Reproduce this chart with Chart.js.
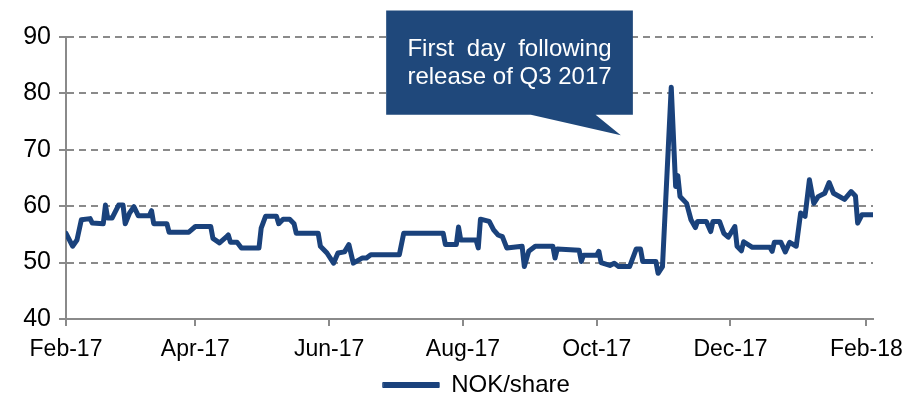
<!DOCTYPE html>
<html>
<head>
<meta charset="utf-8">
<script src="https://cdn.jsdelivr.net/npm/chart.js@4.4.0/dist/chart.umd.min.js"></script>
<style>
  html, body { margin: 0; padding: 0; background: #fff; }
  #wrap { width: 907px; height: 396px; }
</style>
</head>
<body>
<div id="wrap"><canvas id="sharePrice" width="907" height="396"></canvas></div>
<script>
// trading days, counted in days after 1 Feb 2017
const dayOffsets = [
  0, 3, 5, 7, 11, 12, 17, 18, 19, 21, 24, 26, 27, 29, 31, 33, 38, 39, 40, 46,
  47, 56, 59, 66, 67, 70, 73, 74, 75, 78, 80, 88, 89, 91, 96, 97, 99, 102, 104, 105,
  115, 116, 119, 122, 124, 127, 129, 131, 135, 137, 139, 152, 154, 172, 173, 178, 179, 180, 187, 188,
  189, 193, 195, 197, 199, 201, 208, 209, 211, 214, 222, 223, 224, 234, 235, 236, 242, 243, 244, 248,
  250, 252, 257, 260, 262, 263, 269, 270, 272, 276, 278, 279, 280, 283, 285, 287, 288, 292, 294, 295,
  298, 300, 302, 305, 306, 308, 309, 313, 321, 322, 323, 326, 328, 330, 333, 335, 337, 339, 341, 343,
  346, 348, 350, 355, 358, 360, 361, 363, 368
];

// closing price, NOK per share
const nokPerShare = [
  55.2, 52.9, 54.0, 57.6, 57.8, 57.0, 56.9, 60.2, 57.9, 57.9, 60.2, 60.2, 56.9, 58.8, 59.9, 58.3, 58.3, 59.2, 56.9, 56.9,
  55.4, 55.4, 56.4, 56.4, 54.3, 53.5, 54.5, 54.9, 53.6, 53.6, 52.6, 52.6, 56.1, 58.2, 58.2, 56.9, 57.7, 57.7, 56.9, 55.2,
  55.2, 52.9, 51.7, 49.9, 51.7, 51.9, 53.2, 49.9, 50.8, 50.8, 51.4, 51.4, 55.2, 55.2, 53.2, 53.2, 56.3, 54.0, 54.0, 52.6,
  57.7, 57.3, 55.8, 54.9, 54.6, 52.6, 52.9, 49.3, 52.0, 52.9, 52.9, 50.8, 52.4, 52.2, 50.2, 51.3, 51.3, 52.0, 50.0, 49.5,
  49.9, 49.3, 49.3, 52.4, 52.4, 50.2, 50.2, 48.1, 49.3, 81.1, 63.5, 65.4, 61.7, 60.5, 57.6, 56.2, 57.3, 57.3, 55.5, 57.3,
  57.3, 55.2, 54.5, 56.4, 52.9, 52.1, 53.7, 52.7, 52.7, 52.0, 53.6, 53.6, 51.9, 53.6, 52.9, 58.8, 58.2, 64.7, 60.5, 61.7,
  62.3, 64.2, 62.3, 61.2, 62.6, 61.8, 57.0, 58.5, 58.5
];

const monthTicks = [0, 59, 120, 181, 242, 303, 365];
const monthLabels = ['Feb-17', 'Apr-17', 'Jun-17', 'Aug-17', 'Oct-17', 'Dec-17', 'Feb-18'];

const calloutLines = [['First', 'day', 'following'], ['release of Q3 2017']];

const navy = '#1a427c';
const boxBlue = '#1f487b';
const gridGrey = '#8a8a8a';
const font = '"Liberation Sans", Arial, sans-serif';

const points = dayOffsets.map((d, i) => ({ x: d, y: nokPerShare[i] }));

// speech-bubble note, placed in data units so it follows the scales
const callout = {
  id: 'callout',
  afterDraw(chart) {
    const { ctx, scales: { x, y } } = chart;
    const left = x.getPixelForValue(146);
    const right = x.getPixelForValue(258.5);
    const top = y.getPixelForValue(94.7);
    const bottom = y.getPixelForValue(76.2);
    const tipX = x.getPixelForValue(253);
    const tipY = y.getPixelForValue(72.6);

    ctx.save();
    ctx.fillStyle = boxBlue;
    ctx.beginPath();
    ctx.moveTo(left, top);
    ctx.lineTo(right, top);
    ctx.lineTo(right, bottom);
    ctx.lineTo(x.getPixelForValue(241.5), bottom);
    ctx.lineTo(tipX, tipY);
    ctx.lineTo(x.getPixelForValue(212), bottom);
    ctx.lineTo(left, bottom);
    ctx.closePath();
    ctx.fill();

    ctx.fillStyle = '#ffffff';
    ctx.font = '24px ' + font;
    ctx.textBaseline = 'alphabetic';
    const cx = (left + right) / 2;
    const full = ctx.measureText(calloutLines[1].join(' ')).width;
    const x0 = cx - full / 2;
    // first line is justified to the width of the second
    const words = calloutLines[0];
    const wordsW = words.reduce((s, w) => s + ctx.measureText(w).width, 0);
    const gap = (full - wordsW) / (words.length - 1);
    let wx = x0;
    words.forEach(w => {
      ctx.fillText(w, wx, top + 46);
      wx += ctx.measureText(w).width + gap;
    });
    ctx.fillText(calloutLines[1].join(' '), x0, top + 74);
    ctx.restore();
  }
};

// nudge the legend a little right of the plot centre
const legendShift = {
  id: 'legendShift',
  afterLayout(chart) {
    chart.legend.left += 14;
  }
};

const ctx = document.getElementById('sharePrice').getContext('2d');

new Chart(ctx, {
  type: 'line',
  data: {
    datasets: [{
      label: 'NOK/share',
      data: points,
      borderColor: navy,
      backgroundColor: navy,
      borderWidth: 5,
      borderJoinStyle: 'round',
      borderCapStyle: 'round',
      pointRadius: 0,
      tension: 0
    }]
  },
  options: {
    responsive: false,
    devicePixelRatio: 1,
    animation: false,
    layout: { padding: { left: 0, right: 34, top: 37, bottom: 0 } },
    plugins: {
      legend: {
        position: 'bottom',
        fullSize: false,
        maxHeight: 26,
        labels: {
          boxWidth: 56,
          boxHeight: 5,
          padding: 3,
          color: '#000',
          font: { family: font, size: 24 },
          generateLabels: chart => Chart.defaults.plugins.legend.labels.generateLabels(chart)
            .map(item => ({ ...item, lineWidth: 1 }))
        }
      },
      tooltip: { enabled: false }
    },
    scales: {
      x: {
        type: 'linear',
        min: 0,
        max: 368,
        afterBuildTicks: s => { s.ticks = monthTicks.map(v => ({ value: v })); },
        afterFit: s => {
          s.height = 51;
          s.paddingLeft = 0;
          s.paddingRight = 0;
        },
        ticks: {
          autoSkip: false,
          maxRotation: 0,
          padding: 10,
          color: '#000',
          font: { family: font, size: 23 },
          callback: v => monthLabels[monthTicks.indexOf(v)]
        },
        grid: { drawOnChartArea: false, drawTicks: true, tickLength: 7, color: gridGrey, lineWidth: 2 },
        border: { color: gridGrey, width: 2 }
      },
      y: {
        min: 40,
        max: 90,
        afterFit: s => { s.width = 66; },
        ticks: {
          stepSize: 10,
          padding: 8,
          color: '#000',
          font: { family: font, size: 25 }
        },
        grid: { color: gridGrey, lineWidth: 2, tickLength: 7 },
        border: { color: gridGrey, width: 2, dash: [7, 5] }
      }
    }
  },
  plugins: [callout, legendShift]
});
</script>
</body>
</html>
